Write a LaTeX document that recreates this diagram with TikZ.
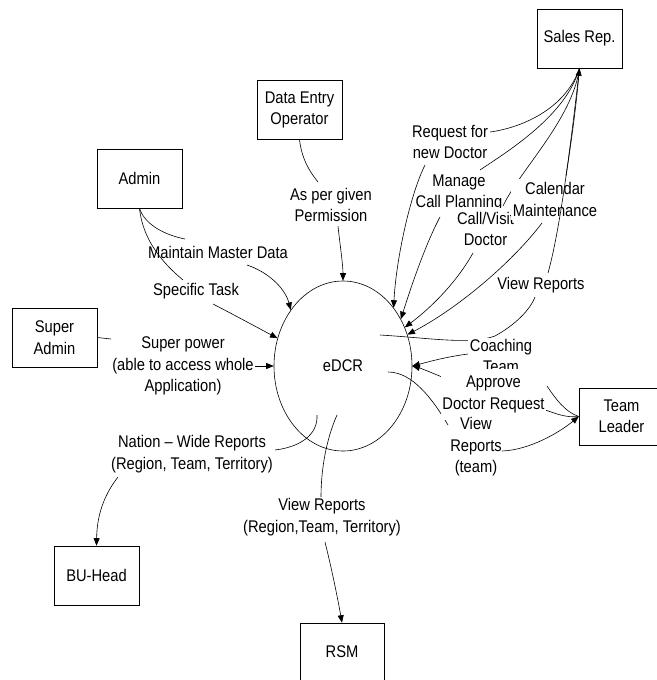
\documentclass[tikz,border=0pt]{standalone}
\usepackage{fontspec}
\setmainfont{Liberation Sans}[FakeStretch=0.87]
\usetikzlibrary{shapes.geometric,arrows.meta}
\pgfdeclarelayer{bg}
\pgfsetlayers{bg,main}
\begin{document}
\begin{tikzpicture}[x=1pt,y=-1pt,
  every node/.style={font=\fontsize{16.9}{21.5}\selectfont},
  box/.style={draw, line width=0.6pt, minimum width=85pt, minimum height=59pt, inner sep=0pt, align=center},
  lbl/.style={align=center, inner sep=1.5pt},
  lblw/.style={lbl, fill=white},
  conn/.style={line width=0.6pt},
  arr/.style={conn, -{Triangle[length=7.5pt,width=6pt]}},
]
\useasboundingbox (0,0) rectangle (656,680);

% boxes
\node[box] (sales) at (579.5,38.5) {Sales Rep.};
\node[box] (deo) at (299.5,110) {Data Entry\\Operator};
\node[box] (admin) at (139.5,178.5) {Admin};
\node[box] (sadmin) at (54.5,337.5) {Super\\Admin};
\node[box] (bu) at (96.5,575.5) {BU-Head};
\node[box, minimum width=84pt, minimum height=58pt] (rsm) at (342,652) {RSM};
\node[box, minimum height=57pt] (tl) at (621.5,416.5) {Team\\Leader};
\node[draw, ellipse, line width=0.6pt, minimum width=138pt, minimum height=170pt, inner sep=0pt] (edcr) at (343,366) {eDCR};

% labels
\node[lbl] (req) at (450,142) {Request for\\new Doctor};
\node[lbl] (mng) at (459,193) {Manage\\Call Planning};
\node[lblw, inner ysep=4pt] (call) at (485.5,229) {Call/Visit\\Doctor};
\node[lblw, inner ysep=4pt] (cal) at (555,199.5) {Calendar\\Maintenance};
\node[lbl] (vr) at (541,285) {View Reports};
\node[lblw] (coach) at (501,356) {Coaching\\Team};
\node[lblw, inner ysep=7.5pt] (appr) at (493.5,394.5) {Approve\\Doctor Request};
\node[lbl] (vrt) at (476,447) {View\\Reports\\(team)};
\node[lbl] (mmd) at (218,252) {Maintain Master Data};
\node[lbl] (spec) at (196,291) {Specific Task};
\node[lbl] (sp) at (183,366) {Super power\\(able to access whole\\Application)};
\node[lbl] (perm) at (331,205) {As per given\\Permission};
\node[lbl] (nat) at (192,454) {Nation – Wide Reports\\(Region, Team, Territory)};
\node[lbl] (vrr) at (322,517) {View Reports\\(Region,Team, Territory)};

% free ends of connectors
\coordinate (reqA) at (490,132);  \coordinate (reqB) at (425,165);
\coordinate (mngA) at (480,170);  \coordinate (mngB) at (440,217);
\coordinate (callA) at (503,206); \coordinate (callB) at (473,253);
\coordinate (calA) at (566,176);  \coordinate (calB) at (542,223);
\coordinate (vrA) at (380,335);   \coordinate (vrB) at (535,297); \coordinate (vrC) at (548,273);
\coordinate (coachA) at (547,386); \coordinate (coachB) at (468,354);
\coordinate (apprA) at (545,410); \coordinate (apprB) at (442,377);
\coordinate (vrtS) at (388,372);  \coordinate (vrtA) at (448,425); \coordinate (vrtB) at (502,451);
\coordinate (mmdA) at (185,239);  \coordinate (mmdB) at (247,265);
\coordinate (specA) at (183,280); \coordinate (specB) at (213,304);
\coordinate (spA) at (111,339);
\coordinate (permA) at (318,182); \coordinate (permB) at (338,226);
\coordinate (natS) at (317,415);  \coordinate (natA) at (275,450); \coordinate (natB) at (118,477);
\coordinate (vrrS) at (337,415);  \coordinate (vrrA) at (321,497); \coordinate (vrrB) at (325,542);

\begin{pgfonlayer}{bg}
% Sales Rep
\draw[conn] (sales.south) .. controls (565,110) and (520,128) .. (reqA);
\draw[arr] (reqB) .. controls (410,195) and (396,260) .. (edcr.49.7);
\draw[conn] (sales.south) .. controls (566,115) and (510,150) .. (mngA);
\draw[arr] (mngB) .. controls (425,245) and (410,290) .. (edcr.39.7);
\draw[conn] (sales.south) .. controls (572,120) and (520,170) .. (callA);
\draw[arr] (callB) .. controls (455,285) and (428,310) .. (edcr.32);
\draw[conn] (sales.south) .. controls (576,110) and (570,150) .. (calA);
\draw[arr] (calB) .. controls (510,265) and (455,310) .. (edcr.26);
\draw[conn] (vrA) .. controls (430,338) and (470,345) .. (495,336) .. controls (515,325) and (530,310) .. (vrB);
% Team Leader
\draw[conn] (tl.west) .. controls (565,412) and (555,398) .. (coachA);
\draw[arr] (coachB) .. controls (445,357) and (428,362) .. (edcr.east);
\draw[conn] (tl.west) .. controls (565,418) and (555,413) .. (apprA);
\draw[arr] (apprB) .. controls (430,372) and (420,368) .. (edcr.east);
\draw[conn] (vrtS) .. controls (412,372) and (432,398) .. (vrtA);
\draw[arr] (vrtB) .. controls (530,450) and (560,432) .. (tl.west);
% Admin
\draw[conn] (admin.south) .. controls (145,225) and (165,235) .. (mmdA);
\draw[arr] (mmdB) .. controls (268,272) and (285,288) .. (edcr.133);
\draw[conn] (admin.south) .. controls (143,242) and (165,265) .. (specA);
\draw[arr] (specB) .. controls (240,318) and (262,330) .. (edcr.157);
% Super Admin
\draw[conn] (sadmin.east) -- (spA);
\draw[arr] (sp.east) -- (edcr.west);
% Data Entry Operator
\draw[conn] (deo.south) .. controls (302,160) and (310,172) .. (permA);
\draw[arr] (permB) .. controls (340,245) and (343,265) .. (edcr.north);
% BU-Head
\draw[conn] (natS) .. controls (318,435) and (300,447) .. (natA);
\draw[arr] (natB) .. controls (104,495) and (97,515) .. (bu.north);
% RSM
\draw[conn] (vrrS) .. controls (326,440) and (321,470) .. (vrrA);
\draw[arr] (vrrB) .. controls (332,570) and (338,600) .. (rsm.north);
\end{pgfonlayer}

% View Reports to Sales Rep, drawn over the labels
\draw[arr] (vrC) .. controls (560,230) and (570,150) .. (sales.south);
\end{tikzpicture}
\end{document}
